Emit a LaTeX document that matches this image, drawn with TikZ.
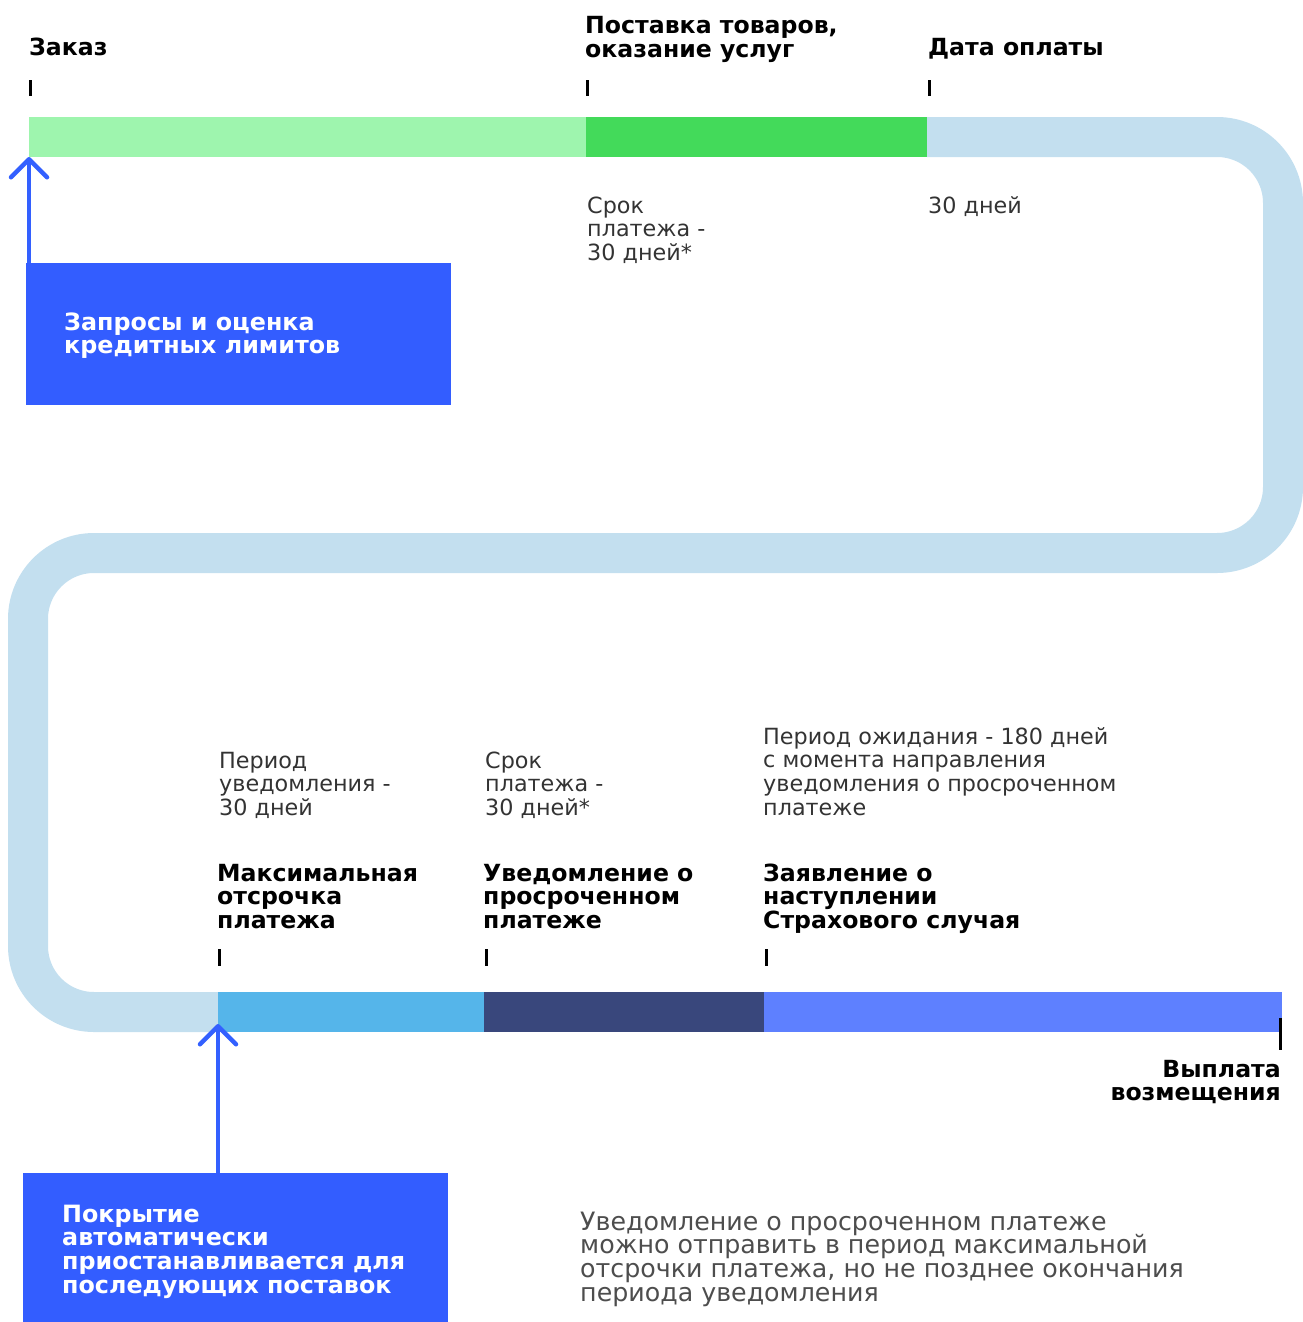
\documentclass[tikz,border=0pt]{standalone}
\usepackage{fontspec}
\setmainfont{DejaVu Sans}
\usetikzlibrary{arrows.meta}
\definecolor{lgreen}{HTML}{9EF5AE}
\definecolor{dgreen}{HTML}{43DA5A}
\definecolor{pale}{HTML}{C3DFEF}
\definecolor{sky}{HTML}{55B5EA}
\definecolor{navy}{HTML}{39477C}
\definecolor{peri}{HTML}{5E80FF}
\definecolor{boxblue}{HTML}{335DFF}
\definecolor{arrblue}{HTML}{3360FF}
\definecolor{txtgray}{HTML}{333333}
\definecolor{notegray}{HTML}{4D4D4D}
\newcommand\linesL[1]{\vtop{\lineskiplimit=-\maxdimen\let\\\cr\halign{##\hfil\cr#1\crcr}}}
\newcommand\linesR[1]{\vtop{\lineskiplimit=-\maxdimen\let\\\cr\halign{\hfil##\cr#1\crcr}}}
\begin{document}
\begin{tikzpicture}[x=1pt,y=-1pt,
  seg/.style={draw=none,inner sep=0pt,outer sep=0pt,minimum height=40pt,anchor=west},
  box/.style={fill=boxblue,draw=none,inner sep=0pt,outer sep=0pt,anchor=north west},
  tickmark/.style={line width=3pt,black},
  arr/.style={arrblue,line width=4.5pt,-{Straight Barb[length=18pt,width=36pt,round]}},
  bold/.style={anchor=base west,inner sep=0pt,text=black,font=\fontsize{23.6}{23.7}\selectfont\bfseries},
  reg/.style={anchor=base west,inner sep=0pt,text=txtgray,font=\fontsize{22.3}{23.7}\selectfont},
  boxtxt/.style={anchor=base west,inner sep=0pt,text=white,font=\fontsize{23.8}{23.7}\selectfont\bfseries},
  note/.style={anchor=base west,inner sep=0pt,text=notegray,font=\fontsize{25.3}{23.7}\selectfont}]
\useasboundingbox (0,0) rectangle (1303,1322);
% winding track
\draw[pale,line width=40pt] (927,137) -- (1217,137)
  arc[start angle=-90,end angle=0,radius=66] -- (1283,487)
  arc[start angle=0,end angle=90,radius=66] -- (94,553)
  arc[start angle=270,end angle=180,radius=66] -- (28,946)
  arc[start angle=180,end angle=90,radius=66] -- (218,1012);
% coloured segments
\node[seg,fill=lgreen,minimum width=557pt] (sOrder) at (29,137) {};
\node[seg,fill=dgreen,minimum width=341pt] (sDelivery) at (586,137) {};
\node[seg,fill=sky,minimum width=266pt] (sMax) at (218,1012) {};
\node[seg,fill=navy,minimum width=280pt] (sNotice) at (484,1012) {};
\node[seg,fill=peri,minimum width=518pt] (sWait) at (764,1012) {};
% ticks
\draw[tickmark] (30,80) -- (30,96);
\draw[tickmark] (587,80) -- (587,96);
\draw[tickmark] (929,80) -- (929,96);
\draw[tickmark] (219,949) -- (219,966);
\draw[tickmark] (486,949) -- (486,966);
\draw[tickmark] (766,949) -- (766,966);
\draw[tickmark] (1280.5,1018) -- (1280.5,1050);
% top labels
\node[bold] (tOrder) at (29,56) {Заказ};
\node[bold] (tDelivery) at (585,34) {\linesL{Поставка товаров,\\оказание услуг}};
\node[bold] (tPay) at (928,56) {Дата оплаты};
\node[reg] (tTerm1) at (587,213) {\linesL{Срок\\платежа -\\30 дней*}};
\node[reg] (t30) at (928,213) {30 дней};
% box 1
\node[box,minimum width=425pt,minimum height=142pt] (b1) at (26,263) {};
\node[boxtxt] (b1t) at (64,330) {\linesL{Запросы и оценка\\кредитных лимитов}};
\draw[arr] (sOrder.south west |- b1.north) -- (sOrder.south west);
% middle labels
\node[reg] (tNotif) at (219,768) {\linesL{Период\\уведомления -\\30 дней}};
\node[reg] (tTerm2) at (485,768) {\linesL{Срок\\платежа -\\30 дней*}};
\node[reg] (tWait) at (763,744) {\linesL{Период ожидания - 180 дней\\с момента направления\\уведомления о просроченном\\платеже}};
\node[bold] (tMax) at (217,881) {\linesL{Максимальная\\отсрочка\\платежа}};
\node[bold] (tOverdue) at (483,881) {\linesL{Уведомление о\\просроченном\\платеже}};
\node[bold] (tClaim) at (763,881) {\linesL{Заявление о\\наступлении\\Страхового случая}};
\node[bold,anchor=base east] (tPayout) at (1281,1077) {\linesR{Выплата\\возмещения}};
% box 2
\node[box,minimum width=425pt,minimum height=149pt] (b2) at (23,1173) {};
\node[boxtxt] (b2t) at (62,1222) {\linesL{Покрытие\\автоматически\\приостанавливается для\\последующих поставок}};
\coordinate (tip2) at (218,1024);
\draw[arr] (tip2 |- b2.north) -- (tip2);
% footnote
\node[note] (tNote) at (580,1230) {\linesL{Уведомление о просроченном платеже\\можно отправить в период максимальной\\отсрочки платежа, но не позднее окончания\\периода уведомления}};
\end{tikzpicture}
\end{document}
